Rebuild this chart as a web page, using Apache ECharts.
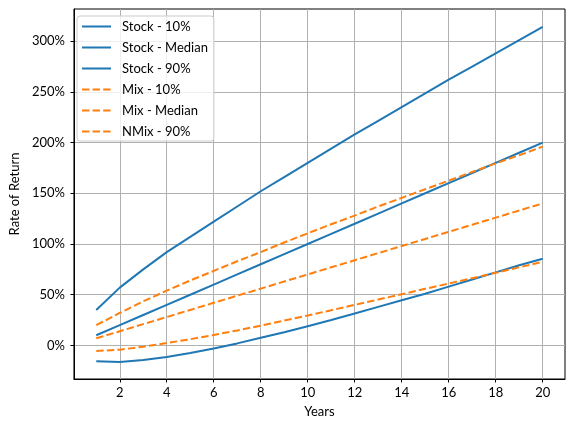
<!DOCTYPE html>
<html>
<head>
<meta charset="utf-8">
<script src="https://cdn.jsdelivr.net/npm/echarts@6/dist/echarts.min.js"></script>
<style>
  html, body { margin: 0; padding: 0; background: #fff; }
  #chart { width: 575px; height: 430px; }
</style>
</head>
<body>
<div id="chart"></div>
<script>
// data
const years = [1, 2, 3, 4, 5, 6, 7, 8, 9, 10, 11, 12, 13, 14, 15, 16, 17, 18, 19, 20];
const stock10 = [-15.5, -16.3, -14.3, -11.3, -7.5, -3, 2, 7.5, 13, 19, 25, 31.5, 38, 44.5, 51, 58, 65, 72, 79, 85.5];
const stockMedian = [10, 20, 30, 40, 50, 60, 70, 80, 90, 100, 110, 120, 130, 140, 150, 160, 170, 180, 190, 200];
const stock90 = [35, 57, 75, 92, 107, 122, 137, 152, 166, 180, 194, 208, 221.5, 235, 248.5, 262, 275, 288, 301, 314];
const mix10 = [-5.5, -4.2, -1.2, 2.3, 6.1, 10.3, 14.8, 19.5, 24.5, 29.5, 34.7, 40, 45.2, 50.5, 55.8, 61, 66.3, 71.6, 77, 82.5];
const mixMedian = [7, 14, 21, 28, 35, 42, 49, 56, 63, 70, 77, 84, 91, 98, 105, 112, 119, 126, 133, 140];
const mix90 = [20, 32, 43.5, 54, 64, 73.5, 83, 92, 101.5, 110.5, 119.5, 128, 137, 145.5, 154, 162.5, 171, 179.5, 187.5, 196];
const xTicks = [2, 4, 6, 8, 10, 12, 14, 16, 18, 20];
const yTicks = [0, 50, 100, 150, 200, 250, 300];

const FONT = "Lato";
const BLUE = "#1f77b4";
const ORANGE = "#ff7f0e";

function pairs(vals) {
  return years.map((y, i) => [y, vals[i]]);
}

function makeSeries(name, vals, color, dashed) {
  return {
    name: name,
    type: "line",
    data: pairs(vals),
    symbol: "none",
    lineStyle: { color: color, width: 2, type: dashed ? [7.4, 3.2] : "solid" },
    itemStyle: { color: color }
  };
}

const chart = echarts.init(document.getElementById("chart"));
const option = {
  animation: false,
  textStyle: { fontFamily: FONT },
  grid: {
    left: 70, right: 10, top: 9, bottom: 51,
    show: true, borderColor: "#000", borderWidth: 1
  },
  legend: {
    orient: "vertical",
    left: 77, top: 16,
    itemWidth: 29, itemHeight: 12, itemGap: 8,
    padding: [4, 6, 3, 4],
    borderColor: "#cccccc", borderWidth: 1, borderRadius: 3,
    backgroundColor: "rgba(255,255,255,0.8)",
    // line only in the legend sample, no marker
    itemStyle: { opacity: 0 },
    textStyle: { fontFamily: FONT, fontSize: 13, color: "#000", padding: [0, 0, 0, 6] }
  },
  xAxis: {
    type: "value",
    min: 0.05, max: 20.95,
    name: "Years", nameLocation: "middle", nameGap: 26,
    nameTextStyle: { fontFamily: FONT, fontSize: 13, color: "#000" },
    axisLine: { show: true, onZero: false, lineStyle: { color: "#000", width: 1 } },
    axisTick: { show: true, length: 3.5, customValues: xTicks, lineStyle: { color: "#000" } },
    axisLabel: { customValues: xTicks, margin: 7, fontSize: 13, color: "#000", fontFamily: FONT },
    splitLine: { show: true, lineStyle: { color: "#b0b0b0", width: 1 } }
  },
  yAxis: {
    type: "value",
    min: -33.1, max: 331.7,
    name: "Rate of Return", nameLocation: "middle", nameGap: 48,
    nameTextStyle: { fontFamily: FONT, fontSize: 13, color: "#000" },
    axisLine: { show: true, lineStyle: { color: "#000", width: 1 } },
    axisTick: { show: true, length: 3.5, customValues: yTicks, lineStyle: { color: "#000" } },
    axisLabel: {
      customValues: yTicks, margin: 9, fontSize: 13, color: "#000", fontFamily: FONT,
      formatter: "{value}%"
    },
    splitLine: { show: true, lineStyle: { color: "#b0b0b0", width: 1 } }
  },
  series: [
    makeSeries("Stock - 10%", stock10, BLUE, false),
    makeSeries("Stock - Median", stockMedian, BLUE, false),
    makeSeries("Stock - 90%", stock90, BLUE, false),
    makeSeries("Mix - 10%", mix10, ORANGE, true),
    makeSeries("Mix - Median", mixMedian, ORANGE, true),
    makeSeries("NMix - 90%", mix90, ORANGE, true)
  ]
};
chart.setOption(option);
window.addEventListener("resize", function () {
  chart.resize();
});
</script>
</body>
</html>
